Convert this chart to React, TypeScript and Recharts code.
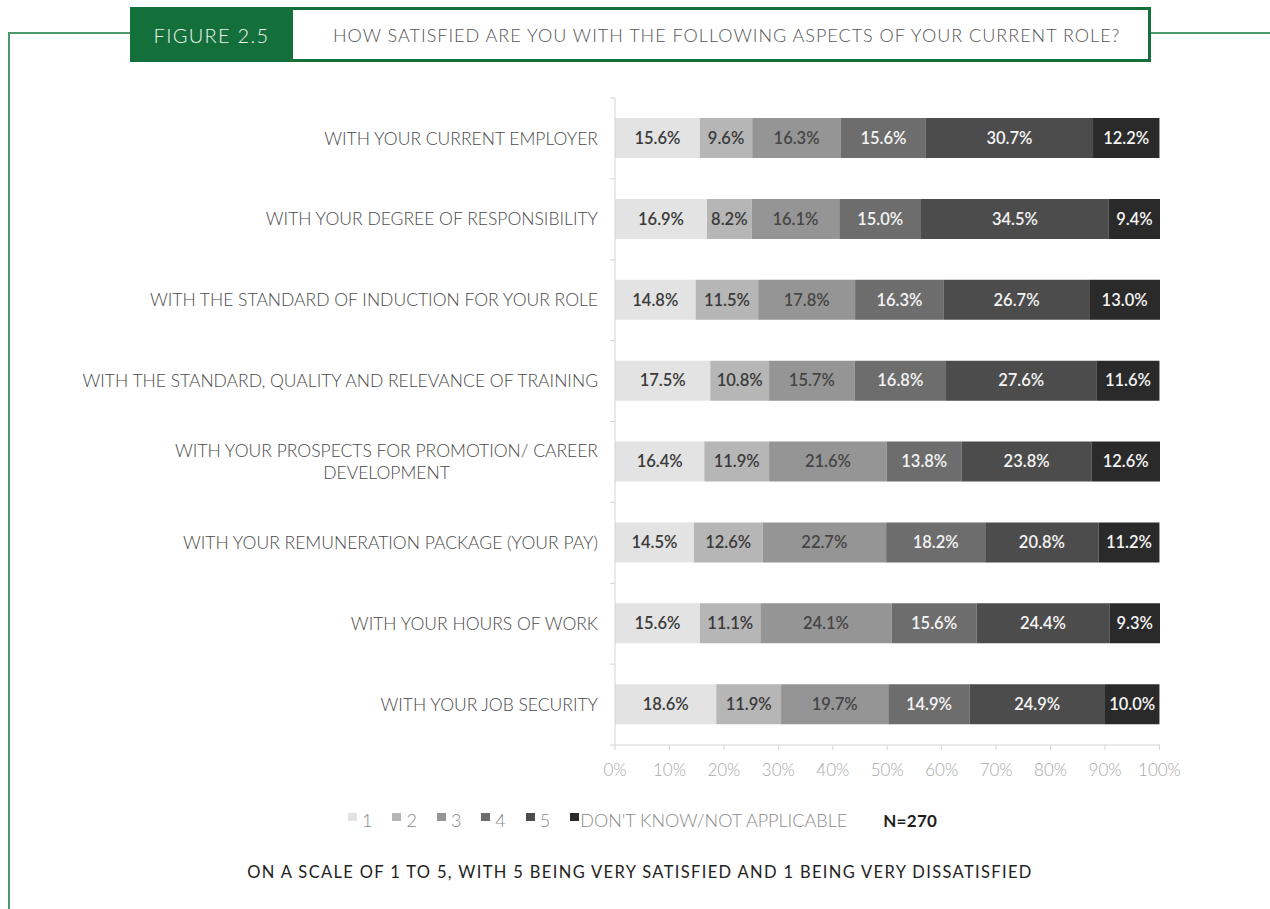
import { useLayoutEffect, useRef, useState } from "react";
import { BarChart, Bar, XAxis, YAxis, LabelList } from "recharts";

const categories = [
  "WITH YOUR CURRENT EMPLOYER",
  "WITH YOUR DEGREE OF RESPONSIBILITY",
  "WITH THE STANDARD OF INDUCTION FOR YOUR ROLE",
  "WITH THE STANDARD, QUALITY AND RELEVANCE OF TRAINING",
  "WITH YOUR PROSPECTS FOR PROMOTION/ CAREER\nDEVELOPMENT",
  "WITH YOUR REMUNERATION PACKAGE (YOUR PAY)",
  "WITH YOUR HOURS OF WORK",
  "WITH YOUR JOB SECURITY",
];

const seriesNames = ["1", "2", "3", "4", "5", "DON'T KNOW/NOT APPLICABLE"];
const seriesColors = ["#e3e3e3", "#b6b6b6", "#959595", "#6d6d6d", "#4c4c4c", "#2a2a2a"];
const labelColors = ["#3a3a3a", "#3a3a3a", "#454545", "#f4f4f4", "#f4f4f4", "#f4f4f4"];

const score1 = [15.6, 16.9, 14.8, 17.5, 16.4, 14.5, 15.6, 18.6];
const score2 = [9.6, 8.2, 11.5, 10.8, 11.9, 12.6, 11.1, 11.9];
const score3 = [16.3, 16.1, 17.8, 15.7, 21.6, 22.7, 24.1, 19.7];
const score4 = [15.6, 15.0, 16.3, 16.8, 13.8, 18.2, 15.6, 14.9];
const score5 = [30.7, 34.5, 26.7, 27.6, 23.8, 20.8, 24.4, 24.9];
const dontKnow = [12.2, 9.4, 13.0, 11.6, 12.6, 11.2, 9.3, 10.0];

const xTicks = [0, 10, 20, 30, 40, 50, 60, 70, 80, 90, 100];

const seriesValues = [score1, score2, score3, score4, score5, dontKnow];
const keys = ["s1", "s2", "s3", "s4", "s5", "dk"];

const data = categories.map((name, i) => {
  const row: Record<string, string | number> = { name };
  keys.forEach((k, j) => {
    row[k] = seriesValues[j][i];
  });
  return row;
});

const FONT = "Lato, 'Open Sans', sans-serif";
const TOP = 98;
const PLOT_H = 647;
const BAND = PLOT_H / categories.length;

const CategoryTick = (props: any) => {
  const { x, y, payload, index } = props;
  const lines: string[] = String(payload.value).split("\n");
  const firstRef = useRef<SVGTextElement>(null);
  const [w, setW] = useState(0);
  useLayoutEffect(() => {
    if (firstRef.current) setW(firstRef.current.getComputedTextLength());
  }, []);
  // recharts hands the tick x already shifted left by tickSize + tickMargin
  const axisX = x + 8;
  const right = axisX - 17;
  const lineH = 22;
  const startY = y - ((lines.length - 1) * lineH) / 2;
  return (
    <g>
      <line x1={axisX - 5} x2={axisX} y1={y - BAND / 2} y2={y - BAND / 2} stroke="#d4d4d4" />
      {index === categories.length - 1 && (
        <line x1={axisX - 5} x2={axisX} y1={y + BAND / 2} y2={y + BAND / 2} stroke="#d4d4d4" />
      )}
      {lines.map((ln, i) => (
        <text
          key={i}
          ref={i === 0 ? firstRef : undefined}
          x={i === 0 ? right : right - w / 2}
          y={startY + i * lineH}
          dy="0.35em"
          textAnchor={i === 0 ? "end" : "middle"}
          fill="#4a4a4a"
          fontSize={17.5}
          fontWeight={300}
          fontFamily={FONT}
        >
          {ln}
        </text>
      ))}
    </g>
  );
};

export default function App() {
  return (
    <div
      style={{
        position: "absolute",
        left: 0,
        top: 0,
        width: 1270,
        height: 909,
        background: "#fff",
        overflow: "hidden",
        fontFamily: FONT,
      }}
    >
      {/* frame lines */}
      <div style={{ position: "absolute", left: 8, top: 32, width: 2, height: 900, background: "#4d9a69" }} />
      <div style={{ position: "absolute", left: 8, top: 32, width: 124, height: 2, background: "#4d9a69" }} />
      <div style={{ position: "absolute", left: 1150, top: 32, width: 120, height: 2, background: "#4d9a69" }} />

      {/* header */}
      <div
        style={{
          position: "absolute",
          left: 130,
          top: 7,
          width: 163,
          height: 55,
          background: "#13703a",
          color: "#f4f4f4",
          fontSize: 20,
          fontWeight: 300,
          letterSpacing: 1.3,
          display: "flex",
          alignItems: "center",
          justifyContent: "center",
          whiteSpace: "nowrap",
        }}
      >
        FIGURE 2.5
      </div>
      <div
        style={{
          position: "absolute",
          left: 293,
          top: 7,
          width: 858,
          height: 55,
          border: "3px solid #13703a",
          borderLeft: "none",
          background: "#fff",
          color: "#555",
          fontSize: 18,
          fontWeight: 300,
          letterSpacing: 1,
          display: "flex",
          alignItems: "center",
          paddingLeft: 40,
          boxSizing: "border-box",
          whiteSpace: "nowrap",
        }}
      >
        HOW SATISFIED ARE YOU WITH THE FOLLOWING ASPECTS OF YOUR CURRENT ROLE?
      </div>

      <div style={{ position: "absolute", left: 0, top: 0 }}>
        <BarChart
          width={1270}
          height={790}
          data={data}
          layout="vertical"
          margin={{ top: TOP, right: 110, left: 0, bottom: 5 }}
          barSize={40}
        >
          <XAxis
            type="number"
            domain={[0, 100]}
            ticks={xTicks}
            tickFormatter={(v) => `${v}%`}
            axisLine={{ stroke: "#d4d4d4" }}
            tickLine={{ stroke: "#d4d4d4" }}
            tickSize={5}
            tickMargin={14}
            height={40}
            tick={{ fill: "#a8a8a8", fontSize: 17, fontWeight: 300, fontFamily: FONT }}
          />
          <YAxis
            type="category"
            dataKey="name"
            width={615}
            axisLine={{ stroke: "#d4d4d4" }}
            tickLine={false}
            tick={<CategoryTick />}
            interval={0}
          />
          {keys.map((k, j) => (
            <Bar
              key={k}
              dataKey={k}
              name={seriesNames[j]}
              stackId="a"
              fill={seriesColors[j]}
              isAnimationActive={false}
            >
              <LabelList
                dataKey={k}
                position="center"
                formatter={(v: any) => `${Number(v).toFixed(1)}%`}
                fill={labelColors[j]}
                fontSize={16.5}
                fontWeight={600}
                fontFamily={FONT}
              />
            </Bar>
          ))}
        </BarChart>
      </div>

      {/* legend */}
      <div
        style={{
          position: "absolute",
          left: 348,
          top: 809,
          display: "flex",
          alignItems: "center",
          fontSize: 18,
          fontWeight: 300,
          color: "#8a8a8a",
        }}
      >
        {seriesNames.map((n, j) => (
          <div key={n} style={{ display: "flex", alignItems: "center", marginRight: 20 }}>
            <span
              style={{
                display: "inline-block",
                width: 9,
                height: 8,
                background: seriesColors[j],
                marginRight: j === seriesNames.length - 1 ? 1 : 5,
                marginTop: -6,
              }}
            />
            <span>{n}</span>
          </div>
        ))}
        <span style={{ color: "#1e1e1e", fontWeight: 700, fontSize: 17, letterSpacing: 0.3, marginLeft: 16 }}>
          N=270
        </span>
      </div>

      <div
        style={{
          position: "absolute",
          left: 0,
          width: 1280,
          top: 862,
          textAlign: "center",
          fontSize: 16.5,
          letterSpacing: 1.35,
          color: "#222",
        }}
      >
        ON A SCALE OF 1 TO 5, WITH 5 BEING VERY SATISFIED AND 1 BEING VERY DISSATISFIED
      </div>
    </div>
  );
}
